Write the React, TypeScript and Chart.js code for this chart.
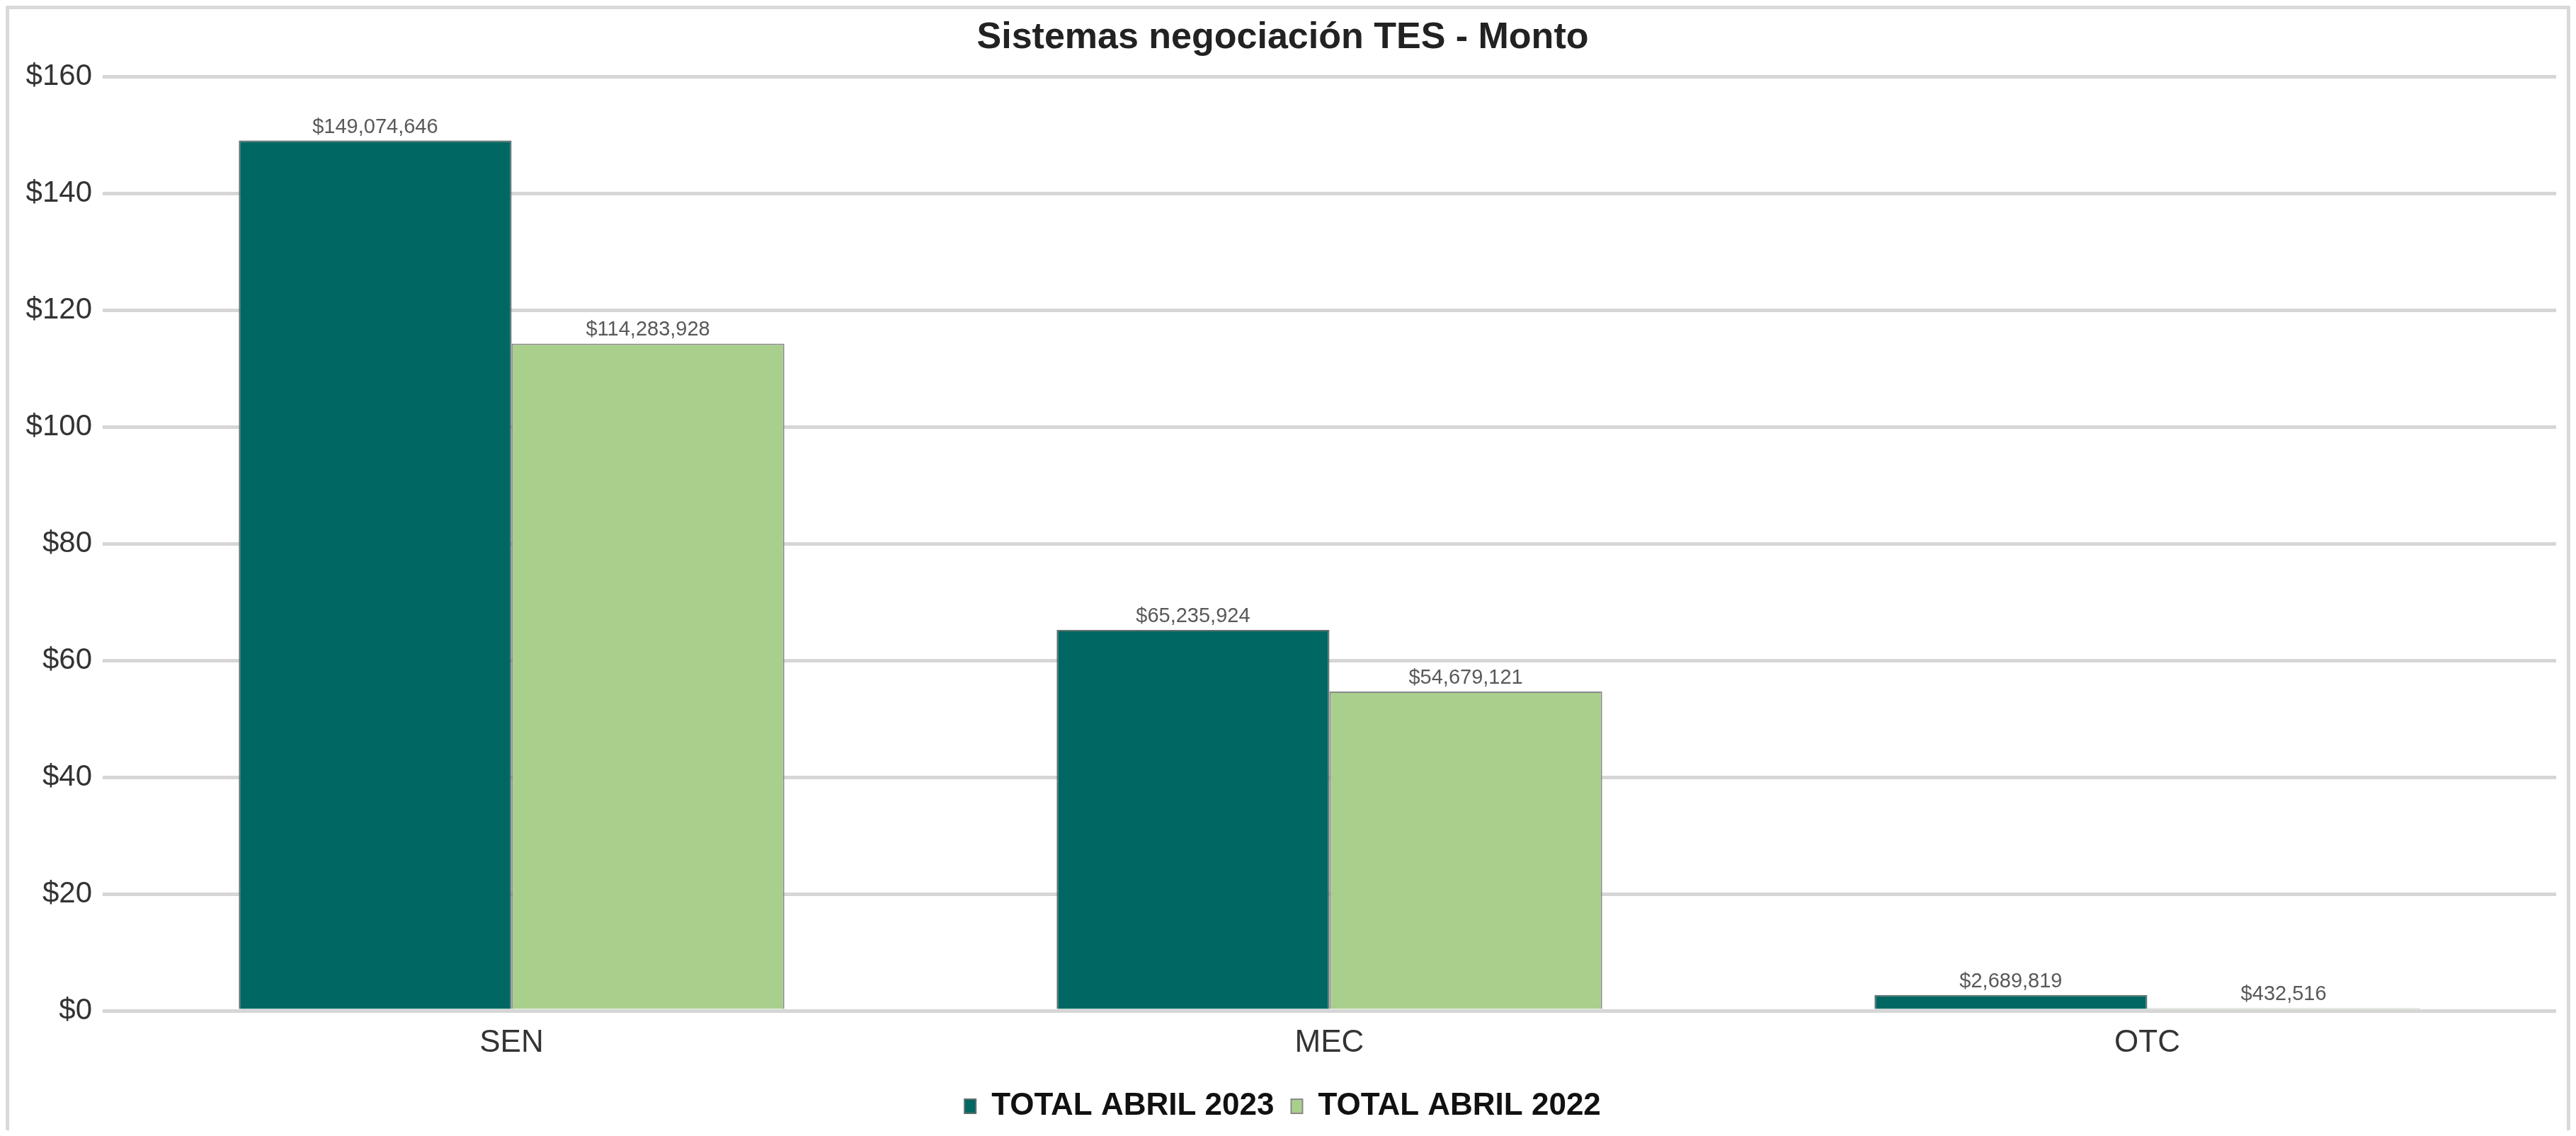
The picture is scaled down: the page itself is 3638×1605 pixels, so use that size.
import React, { useEffect, useRef } from "react";
import { Chart, registerables } from "chart.js";

Chart.register(...registerables);

const chartTitle = "Sistemas negociación TES - Monto";
const categories = ["SEN", "MEC", "OTC"];
const seriesNames = ["TOTAL ABRIL 2023", "TOTAL ABRIL 2022"];
// values in millions of pesos
const values2023 = [149.074646, 65.235924, 2.689819];
const values2022 = [114.283928, 54.679121, 0.432516];
const valueLabels2023 = ["$149,074,646", "$65,235,924", "$2,689,819"];
const valueLabels2022 = ["$114,283,928", "$54,679,121", "$432,516"];
const yMin = 0;
const yMax = 160;
const yStep = 20;

const FONT = "'Liberation Sans', Arial, Helvetica, sans-serif";

const valueLabelPlugin = {
  id: "valueLabels",
  afterDatasetsDraw(chart: any) {
    const ctx = chart.ctx;
    const texts = [valueLabels2023, valueLabels2022];
    chart.data.datasets.forEach((_ds: any, di: number) => {
      const meta = chart.getDatasetMeta(di);
      meta.data.forEach((bar: any, i: number) => {
        ctx.save();
        ctx.font = `29px ${FONT}`;
        ctx.fillStyle = "#595959";
        ctx.textAlign = "center";
        ctx.textBaseline = "alphabetic";
        ctx.fillText(texts[di][i], bar.x, bar.y - 11);
        ctx.restore();
      });
    });
  },
};

export default function App() {
  const canvasRef = useRef<HTMLCanvasElement | null>(null);

  useEffect(() => {
    if (!canvasRef.current) return;
    const chart = new Chart(canvasRef.current, {
      type: "bar",
      data: {
        labels: categories,
        datasets: [
          {
            label: seriesNames[0],
            data: values2023,
            backgroundColor: "#016762",
            borderColor: "#5f6f6c",
            borderWidth: 2,
            categoryPercentage: 0.667,
            barPercentage: 1.0,
          },
          {
            label: seriesNames[1],
            data: values2022,
            backgroundColor: "#a9cf8d",
            borderColor: "#8a8a8a",
            borderWidth: 2,
            categoryPercentage: 0.667,
            barPercentage: 1.0,
          },
        ],
      },
      options: {
        responsive: false,
        animation: false,
        devicePixelRatio: 1,
        layout: { padding: { left: 0, right: 15, top: 0, bottom: 2 } },
        plugins: {
          title: {
            display: true,
            text: chartTitle,
            color: "#222222",
            font: { family: FONT, size: 52, weight: "bold", lineHeight: 1.2 },
            padding: { top: 9, bottom: 24 },
          },
          legend: {
            display: true,
            position: "bottom",
            labels: {
              color: "#111111",
              font: { family: FONT, size: 44, weight: "bold" },
              boxWidth: 16,
              boxHeight: 20,
              padding: 24,
            },
          },
          tooltip: { enabled: false },
        },
        scales: {
          x: {
            grid: { display: false, drawTicks: false },
            border: { display: false },
            ticks: {
              color: "#333333",
              font: { family: FONT, size: 44 },
              padding: 19,
            },
            afterFit: (scale: any) => {
              scale.height = 89;
            },
          },
          y: {
            min: yMin,
            max: yMax,
            grid: { color: "#d6d6d6", lineWidth: 5, drawTicks: false },
            border: { display: false },
            ticks: {
              stepSize: yStep,
              color: "#333333",
              font: { family: FONT, size: 42 },
              padding: 15,
              callback: (v: any) => "$" + v,
            },
            afterFit: (scale: any) => {
              scale.width = 132;
            },
          },
        },
      },
      plugins: [valueLabelPlugin],
    });
    return () => chart.destroy();
  }, []);

  return (
    <div
      style={{
        width: 3622,
        height: 1589,
        boxSizing: "border-box",
        borderLeft: "5px solid #d9d9d9",
        borderTop: "5px solid #d9d9d9",
        borderRight: "5px solid #d9d9d9",
        background: "#ffffff",
        overflow: "hidden",
      }}
    >
      <canvas ref={canvasRef} width={3612} height={1584} style={{ display: "block" }} />
    </div>
  );
}
